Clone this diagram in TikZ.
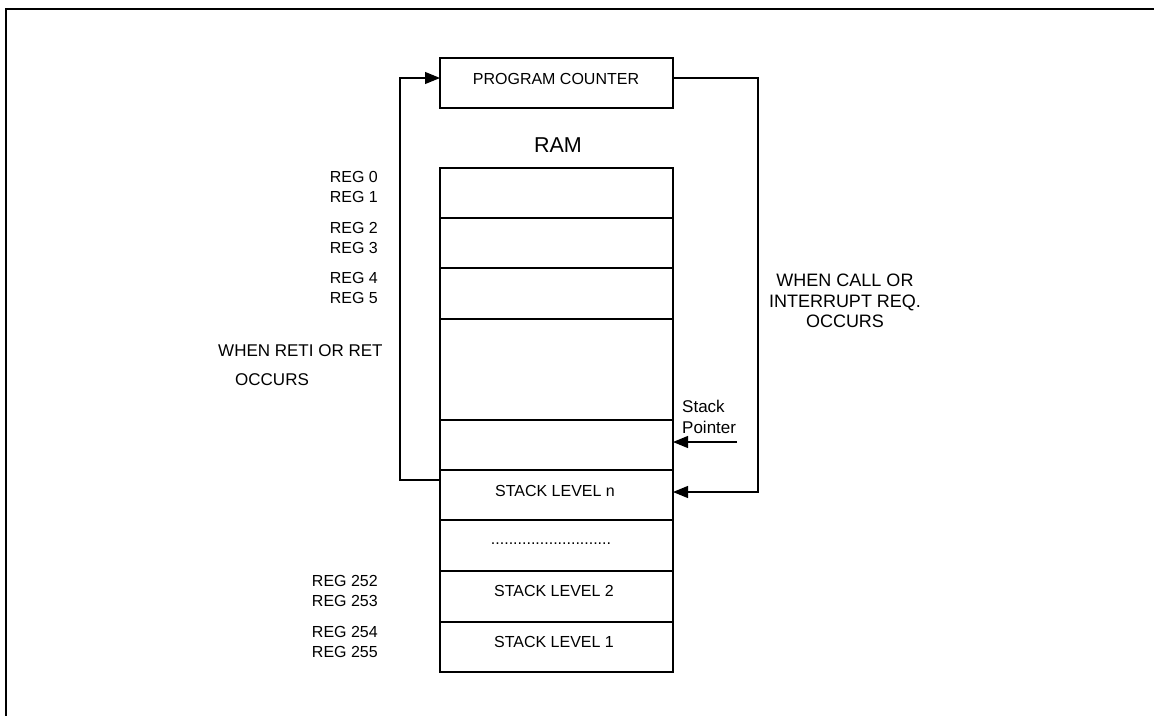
\documentclass[tikz,border=0pt]{standalone}
\usepackage{fontspec}
\setmainfont{Liberation Sans}
\usetikzlibrary{arrows.meta}
\begin{document}
\begin{tikzpicture}[x=1pt,y=-1pt,
 box/.style={draw,line width=1.1pt,minimum width=233pt,inner sep=0pt,outer sep=0pt},
 wire/.style={line width=1.1pt},
 arr/.style={wire,-{Triangle[length=15pt,width=12pt]}},
 txt/.style={inner sep=0pt},
 small/.style={txt,font=\fontsize{16}{20}\selectfont},
 big/.style={txt,font=\fontsize{18}{21}\selectfont}]
\useasboundingbox (0,0) rectangle (1154,715);
\draw[line width=2.2pt] (6,716) -- (6,9) -- (1156,9);
% program counter
\node[box,minimum height=50pt] (pc) at (556.5,83) {};
\node[small] (pctext) at (556,79) {PROGRAM COUNTER};
\node[txt,font=\fontsize{21.5}{25}\selectfont] (ram) at (558,145) {RAM};
% RAM rows
\node[box,minimum height=50pt] (r1) at (556.5,193) {};
\node[box,minimum height=50pt] (r2) at (556.5,243) {};
\node[box,minimum height=51pt] (r3) at (556.5,293.5) {};
\node[box,minimum height=101pt] (r4) at (556.5,369.5) {};
\node[box,minimum height=50pt] (r5) at (556.5,445) {};
\node[box,minimum height=50pt] (r6) at (556.5,495) {};
\node[box,minimum height=51pt] (r7) at (556.5,545.5) {};
\node[box,minimum height=51pt] (r8) at (556.5,596.5) {};
\node[box,minimum height=50pt] (r9) at (556.5,647) {};
\node[small] (t6) at (555,491) {STACK LEVEL n};
\node[small] (t7) at (551,544) {...........................};
\node[small] (t8) at (554,591) {STACK LEVEL 2};
\node[small] (t9) at (554,642) {STACK LEVEL 1};
% register labels
\node[small,align=right,anchor=east] (g01) at (378,187) {REG 0\\REG 1};
\node[small,align=right,anchor=east] (g23) at (378,238) {REG 2\\REG 3};
\node[small,align=right,anchor=east] (g45) at (378,288) {REG 4\\REG 5};
\node[small,align=right,anchor=east] (g252) at (378,591) {REG 252\\REG 253};
\node[small,align=right,anchor=east] (g254) at (378,642) {REG 254\\REG 255};
% side labels
\node[big,align=left,anchor=west,font=\fontsize{17}{29}\selectfont] (reti) at (218,365) {WHEN RETI OR RET\\\hspace*{17pt}OCCURS};
\node[big,align=center,font=\fontsize{18}{20.5}\selectfont] (call) at (845,301) {WHEN CALL OR\\INTERRUPT REQ.\\OCCURS};
\node[txt,align=left,anchor=west,font=\fontsize{17}{21}\selectfont] (sp) at (682,417) {Stack\\Pointer};
% connectors
\draw[arr] ([yshift=15pt]r6.west) -| ([xshift=-40pt,yshift=5pt]pc.west) -- ([yshift=5pt]pc.west);
\draw[arr] ([yshift=5pt]pc.east) -| ([xshift=85pt,yshift=3pt]r6.east) -- ([yshift=3pt]r6.east);
\draw[arr] ([xshift=64pt,yshift=3pt]r5.east) -- ([yshift=3pt]r5.east);
\end{tikzpicture}
\end{document}
